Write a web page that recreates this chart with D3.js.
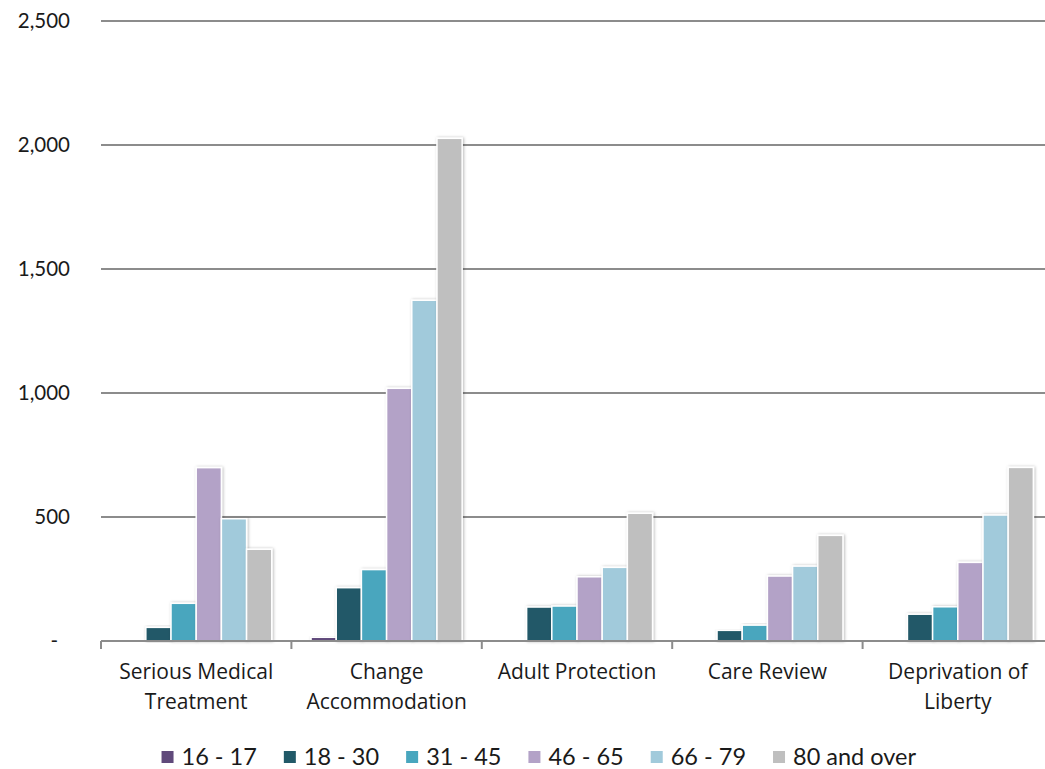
<!DOCTYPE html>
<html>
<head>
<meta charset="utf-8">
<script src="https://cdn.jsdelivr.net/npm/d3@7/dist/d3.min.js"></script>
<style>
  html, body { margin: 0; padding: 0; background: #fff; }
  svg { display: block; }
</style>
</head>
<body>
<svg id="chart" width="1045" height="769"></svg>
<script>
// ---- Data ----
const categories = ["Serious Medical Treatment", "Change Accommodation", "Adult Protection", "Care Review", "Deprivation of Liberty"];
const seriesNames = ["16 - 17", "18 - 30", "31 - 45", "46 - 65", "66 - 79", "80 and over"];
const age16to17 = [0, 15, 0, 0, 0];
const age18to30 = [55, 215, 137, 43, 108];
const age31to45 = [152, 288, 141, 64, 138];
const age46to65 = [699, 1019, 259, 262, 317];
const age66to79 = [493, 1374, 297, 302, 508];
const age80plus = [370, 2027, 515, 426, 700];
const yTicks = [0, 500, 1000, 1500, 2000, 2500];
const colors = ["#604a7b", "#215968", "#48a6be", "#b3a2c7", "#a1cadb", "#bfbfbf"];

const seriesValues = [age16to17, age18to30, age31to45, age46to65, age66to79, age80plus];

// ---- Layout ----
const svg = d3.select("#chart");
const margin = { left: 101, top: 21 };
const plotRight = 1053;
const yBase = 641;

const x0 = d3.scaleBand().domain(categories).range([margin.left, plotRight]).padding(0);
const x1 = d3.scaleBand().domain(seriesNames).range([0, x0.bandwidth()]).paddingInner(0).paddingOuter(0.78);
const y = d3.scaleLinear().domain([0, 2500]).range([yBase, margin.top]);

const defs = svg.append("defs");
const f = defs.append("filter").attr("id", "shadow").attr("x", "-30%").attr("y", "-10%").attr("width", "160%").attr("height", "120%");
f.append("feDropShadow").attr("dx", 1).attr("dy", 0).attr("stdDeviation", 1.6).attr("flood-color", "#000").attr("flood-opacity", 0.28);

// gridlines
svg.append("g")
  .selectAll("line")
  .data(yTicks.filter(d => d > 0))
  .join("line")
  .attr("x1", margin.left)
  .attr("x2", 1045)
  .attr("y1", d => y(d))
  .attr("y2", d => y(d))
  .attr("stroke", "#8c8c8c")
  .attr("stroke-width", 2);

// y axis labels
const yAxis = d3.axisLeft(y).tickValues(yTicks).tickSize(0).tickPadding(0)
  .tickFormat(d => d === 0 ? "-" : d3.format(",")(d));
const yg = svg.append("g").attr("transform", `translate(${70},0)`).call(yAxis);
yg.select(".domain").remove();
yg.selectAll("text")
  .attr("font-family", "Lato, 'Open Sans', sans-serif")
  .attr("font-size", 20.5)
  .attr("fill", "#1a1a1a")
  .attr("text-anchor", "end")
  .attr("dx", d => d === 0 ? -12 : 0);

// bars
const rows = [];
categories.forEach((c, i) => {
  seriesNames.forEach((s, j) => {
    rows.push({ cat: c, ser: s, val: seriesValues[j][i], color: colors[j] });
  });
});

svg.append("g")
  .selectAll("rect")
  .data(rows.filter(d => d.val > 0))
  .join("rect")
  .attr("x", d => x0(d.cat) + x1(d.ser))
  .attr("y", d => y(d.val))
  .attr("width", x1.bandwidth())
  .attr("height", d => y(0) - y(d.val))
  .attr("fill", d => d.color)
  .attr("stroke", "#fff")
  .attr("stroke-width", 1.5)
  .attr("filter", "url(#shadow)");

// x axis
const xAxis = d3.axisBottom(x0).tickSize(0).tickFormat("");
const xg = svg.append("g").attr("transform", `translate(0,${yBase})`).call(xAxis);
xg.select(".domain").remove();
svg.append("line")
  .attr("x1", margin.left).attr("x2", 1045)
  .attr("y1", yBase).attr("y2", yBase)
  .attr("stroke", "#8c8c8c").attr("stroke-width", 2);
const edges = categories.map(c => x0(c));
svg.append("g").selectAll("line").data(edges).join("line")
  .attr("x1", d => d).attr("x2", d => d)
  .attr("y1", yBase).attr("y2", yBase + 8)
  .attr("stroke", "#8c8c8c").attr("stroke-width", 2);

// category labels with wrapping
const labelFont = "'Open Sans', Lato, sans-serif";
const labelSize = 21;
const measurer = svg.append("text").attr("font-family", labelFont).attr("font-size", labelSize).attr("visibility", "hidden");
function textWidth(t) { measurer.text(t); return measurer.node().getComputedTextLength(); }
function wrap(t, maxW) {
  const words = t.split(" ");
  const lines = [];
  let cur = "";
  words.forEach(w => {
    const test = cur ? cur + " " + w : w;
    if (textWidth(test) > maxW && cur) { lines.push(cur); cur = w; }
    else cur = test;
  });
  if (cur) lines.push(cur);
  return lines;
}
const labels = svg.append("g");
categories.forEach(c => {
  const lines = wrap(c, 185);
  const cxl = x0(c) + x0.bandwidth() / 2;
  const t = labels.append("text")
    .attr("x", cxl)
    .attr("y", 679)
    .attr("text-anchor", "middle")
    .attr("font-family", labelFont)
    .attr("font-size", labelSize)
    .attr("fill", "#1a1a1a");
  lines.forEach((l, k) => {
    t.append("tspan").attr("x", cxl).attr("dy", k === 0 ? 0 : 30).text(l);
  });
});
measurer.remove();

// legend
const legendFont = "Lato, 'Open Sans', sans-serif";
const legendSize = 23.5;
const lg = svg.append("g");
const items = lg.selectAll("g").data(seriesNames).join("g");
items.append("rect").attr("width", 12).attr("height", 12).attr("y", -14)
  .attr("fill", (d, i) => colors[i]);
items.append("text").attr("x", 20).attr("y", 0)
  .attr("font-family", legendFont).attr("font-size", legendSize).attr("fill", "#1a1a1a")
  .text(d => d);
let cx = 0;
const gap = 27;
const offs = [];
items.each(function () {
  const w = this.getBBox().width;
  offs.push(cx);
  cx += w + gap;
});
const total = cx - gap;
const startX = 539 - total / 2;
items.attr("transform", (d, i) => `translate(${startX + offs[i]},${765})`);
</script>
</body>
</html>
